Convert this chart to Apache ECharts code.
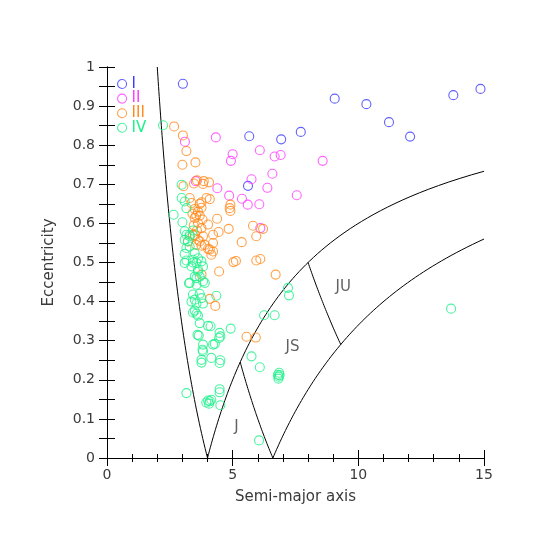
<!DOCTYPE html>
<html>
<head>
<meta charset="utf-8">
<script src="https://cdn.jsdelivr.net/npm/echarts@6/dist/echarts.min.js"></script>
<style>
  html, body { margin: 0; padding: 0; background: #fff; }
  #chart { width: 538px; height: 545px; }
</style>
</head>
<body>
<div id="chart"></div>
<script>
// group names and colours
const groupNames = ['I', 'II', 'III', 'IV']
const groupColors = ['#3a3aff', '#ff3cff', '#ff8a1c', '#1ef08a']

// [semi-major axis, eccentricity]
const groupI = [
  [3.02, 0.957], [5.66, 0.823], [6.93, 0.815], [7.71, 0.834], [5.61, 0.696],
  [9.06, 0.919], [10.32, 0.905], [11.22, 0.859], [12.06, 0.822], [13.78, 0.928],
  [14.86, 0.944]
]
const groupII = [
  [3.10, 0.809], [4.33, 0.820], [5.00, 0.777], [4.93, 0.760], [6.08, 0.787],
  [6.67, 0.771], [6.91, 0.775], [8.58, 0.760], [6.58, 0.727], [5.75, 0.713],
  [6.38, 0.691], [4.39, 0.690], [7.55, 0.672], [4.86, 0.671], [5.37, 0.663],
  [5.60, 0.648], [6.06, 0.649], [3.53, 0.708], [6.10, 0.588]
]
const groupIII = [
  [2.67, 0.848], [3.02, 0.825], [3.16, 0.785], [3.52, 0.756], [3.00, 0.750],
  [3.04, 0.695], [3.46, 0.702], [3.58, 0.710], [3.82, 0.701], [4.06, 0.705],
  [3.85, 0.708], [3.29, 0.665], [3.96, 0.665], [4.09, 0.662], [3.76, 0.654],
  [3.69, 0.650], [4.91, 0.648], [3.49, 0.637], [3.76, 0.640], [3.36, 0.652],
  [4.88, 0.639], [4.91, 0.632], [3.49, 0.614], [3.62, 0.601], [3.76, 0.588],
  [4.02, 0.597], [4.44, 0.578], [4.84, 0.586], [4.22, 0.571], [3.82, 0.567],
  [5.36, 0.552], [4.22, 0.550], [4.02, 0.535], [4.22, 0.528], [3.76, 0.543],
  [3.62, 0.558], [5.03, 0.501], [5.13, 0.504], [4.46, 0.477], [4.38, 0.612],
  [5.81, 0.594], [5.94, 0.567], [6.21, 0.586], [5.94, 0.505], [6.10, 0.509],
  [6.71, 0.469], [4.09, 0.407], [4.31, 0.389], [5.55, 0.310], [5.92, 0.308],
  [3.55, 0.620], [3.45, 0.595], [3.58, 0.582], [3.50, 0.570], [3.69, 0.620],
  [3.89, 0.545], [4.09, 0.533], [4.15, 0.520], [3.22, 0.554], [3.69, 0.554],
  [3.76, 0.469], [3.62, 0.630], [3.42, 0.570], [3.55, 0.545], [3.80, 0.610],
  [3.40, 0.625]
]
const groupIV = [
  [2.23, 0.851], [2.97, 0.699], [2.97, 0.665], [3.09, 0.656], [2.65, 0.622],
  [3.00, 0.603], [3.16, 0.639], [3.09, 0.580], [3.16, 0.571], [3.29, 0.567],
  [3.42, 0.582], [3.22, 0.554], [3.29, 0.541], [3.09, 0.558], [3.16, 0.537],
  [3.09, 0.522], [3.16, 0.505], [3.09, 0.499], [3.42, 0.507], [3.56, 0.499],
  [3.36, 0.490], [3.62, 0.482], [3.49, 0.524], [3.62, 0.511], [3.76, 0.503],
  [3.82, 0.490], [3.62, 0.477], [3.69, 0.464], [3.49, 0.464], [3.82, 0.452],
  [3.89, 0.448], [3.56, 0.443], [3.29, 0.448], [3.26, 0.447], [3.42, 0.418],
  [3.69, 0.420], [3.49, 0.405], [3.36, 0.400], [3.56, 0.395], [3.82, 0.395],
  [3.76, 0.409], [4.35, 0.415], [3.42, 0.372], [3.56, 0.369], [3.62, 0.364],
  [3.49, 0.377], [3.69, 0.345], [4.02, 0.338], [4.12, 0.337], [4.92, 0.331],
  [3.60, 0.315], [3.65, 0.313], [4.48, 0.320], [4.46, 0.307], [4.51, 0.311],
  [3.82, 0.290], [4.22, 0.290], [4.29, 0.292], [3.80, 0.277], [3.82, 0.273],
  [3.76, 0.251], [4.15, 0.256], [4.51, 0.250], [4.48, 0.243], [3.76, 0.244],
  [3.16, 0.166], [4.48, 0.176], [4.48, 0.168], [4.02, 0.147], [4.09, 0.145],
  [4.15, 0.149], [3.95, 0.142], [4.06, 0.139], [4.51, 0.135], [7.20, 0.435],
  [7.24, 0.416], [6.25, 0.365], [6.67, 0.365], [5.75, 0.260], [6.08, 0.232],
  [6.80, 0.213], [6.83, 0.208], [6.85, 0.218], [6.82, 0.203], [6.87, 0.212],
  [6.05, 0.045], [13.69, 0.382], [3.29, 0.571], [3.42, 0.500], [3.56, 0.460]
]

// boundary curves: constant perihelion q = a(1-e) or aphelion Q = a(1+e)
// [kind, distance, eMin, eMax]
const boundaries = [
  ['Q', 4, 0, 1],
  ['q', 4, 0, 0.7334],
  ['q', 6.6, 0, 0.56],
  ['Q', 6.6, 0, 0.2453],
  ['Q', 12, 0.2903, 0.5]
]

// region labels
const regionLabels = [
  ['J', 5.15, 0.08],
  ['JS', 7.38, 0.283],
  ['JU', 9.4, 0.436]
]

const chart = echarts.init(document.getElementById('chart'))
const FONT = 'DejaVu Sans'
const TEXT = '#3a3a3a'

const curvePoints = (b) => {
  const pts = []
  const steps = 80
  for (let i = 0; i <= steps; i++) {
    const e = b[2] + (b[3] - b[2]) * i / steps
    const a = b[0] === 'q' ? b[1] / (1 - e) : b[1] / (1 + e)
    pts.push([a, e])
  }
  return pts
}

const groups = [groupI, groupII, groupIII, groupIV]

const series = []
boundaries.forEach((b) => {
  series.push({
    type: 'line',
    data: curvePoints(b),
    showSymbol: false,
    silent: true,
    lineStyle: { color: '#000', width: 1 },
    z: 1
  })
})
groups.forEach((g, i) => {
  series.push({
    name: groupNames[i],
    type: 'scatter',
    data: g,
    symbol: 'circle',
    symbolSize: 9,
    itemStyle: {
      color: 'rgba(255,255,255,0)',
      borderColor: groupColors[i],
      borderWidth: 1.1
    },
    z: 3
  })
})
series.push({
  type: 'scatter',
  data: regionLabels.map(r => ({ name: r[0], value: [r[1], r[2]] })),
  symbolSize: 1,
  itemStyle: { color: 'rgba(0,0,0,0)' },
  label: {
    show: true,
    position: 'inside',
    formatter: '{b}',
    fontFamily: FONT,
    fontSize: 15,
    color: TEXT
  },
  silent: true
})

const axisBase = {
  type: 'value',
  axisLine: { show: true, lineStyle: { color: '#000', width: 1 } },
  splitLine: { show: false }
}

// one legend block per group so the rows can sit close together
const legends = groupNames.map((n, i) => ({
  data: [{ name: n, textStyle: { color: groupColors[i] } }],
  left: 117,
  top: 76.5 + i * 14.6,
  padding: 0,
  itemWidth: 9,
  itemHeight: 9,
  itemStyle: { borderWidth: 1.1 },
  textStyle: { fontFamily: FONT, fontSize: 15, lineHeight: 15 }
}))

const option = {
  animation: false,
  grid: { left: 107, right: 54, top: 67, bottom: 87 },
  legend: legends,
  xAxis: [
    {
      ...axisBase,
      min: 0, max: 15, interval: 5,
      name: 'Semi-major axis',
      nameLocation: 'middle',
      nameGap: 32,
      nameTextStyle: { fontFamily: FONT, fontSize: 15, color: TEXT },
      axisTick: { inside: true, length: 8, lineStyle: { color: '#000' } },
      minorTick: { show: true, splitNumber: 5, length: 4, lineStyle: { color: '#000' } },
      axisLabel: { fontFamily: FONT, fontSize: 14, color: TEXT, margin: 10 }
    },
    {
      ...axisBase,
      position: 'top',
      min: 0, max: 15, interval: 5,
      axisTick: { inside: true, length: 8, lineStyle: { color: '#000' } },
      minorTick: { show: true, splitNumber: 5, length: 4, lineStyle: { color: '#000' } },
      axisLabel: { show: false }
    }
  ],
  yAxis: [
    {
      ...axisBase,
      min: 0, max: 1, interval: 0.1,
      name: 'Eccentricity',
      nameLocation: 'middle',
      nameGap: 50,
      nameTextStyle: { fontFamily: FONT, fontSize: 15, color: TEXT },
      axisTick: { inside: true, length: 8, lineStyle: { color: '#000' } },
      minorTick: { show: true, splitNumber: 2, length: 8, lineStyle: { color: '#000' } },
      axisLabel: { fontFamily: FONT, fontSize: 14, color: TEXT, margin: 12 }
    },
    {
      ...axisBase,
      position: 'right',
      min: 0, max: 1, interval: 0.1,
      axisTick: { inside: true, length: 8, lineStyle: { color: '#000' } },
      minorTick: { show: true, splitNumber: 2, length: 8, lineStyle: { color: '#000' } },
      axisLabel: { show: false }
    }
  ],
  series: series
}

chart.setOption(option)
</script>
</body>
</html>
